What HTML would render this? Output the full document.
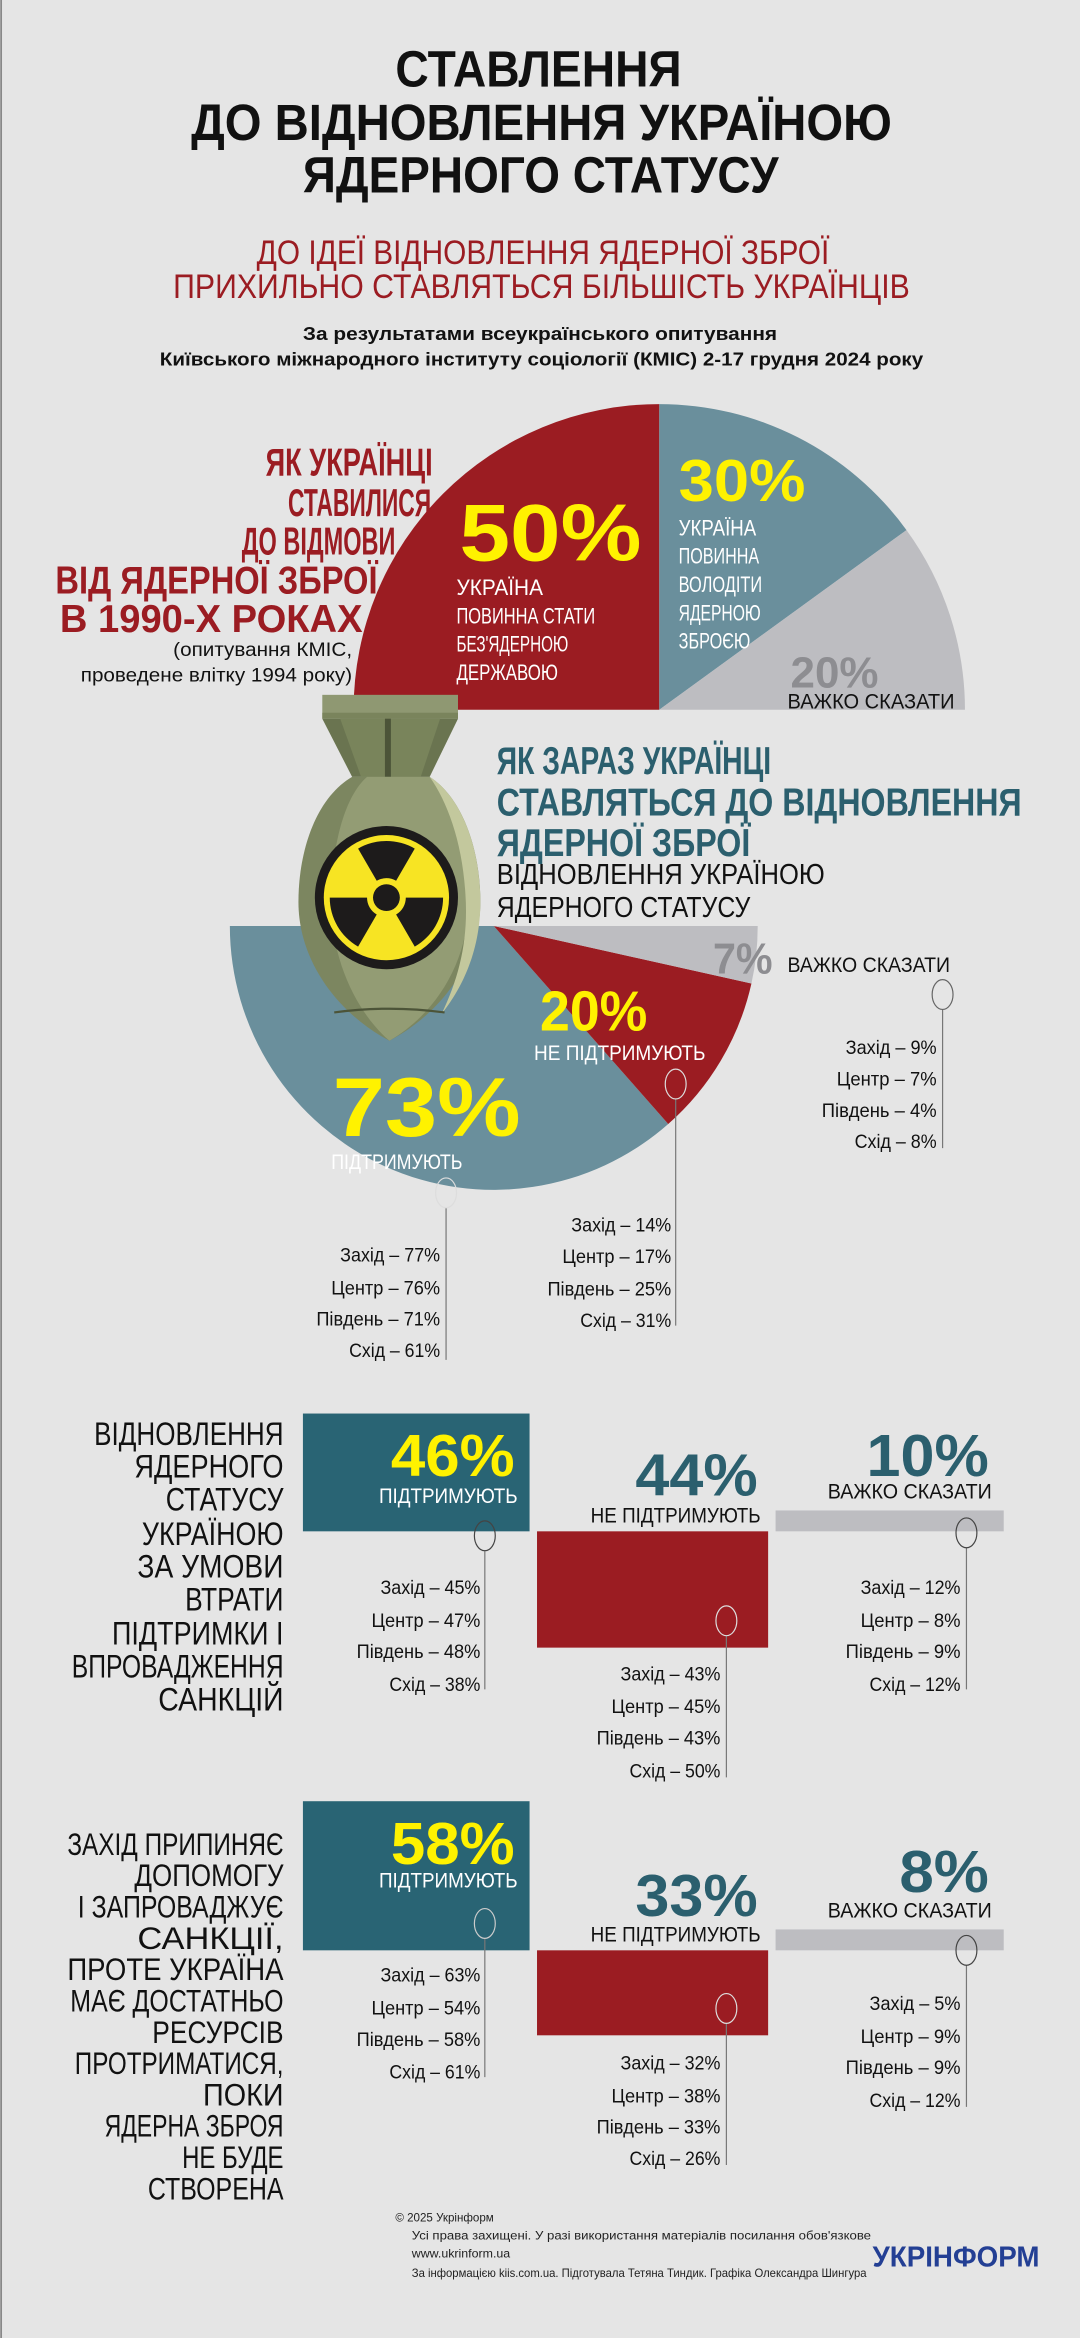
<!DOCTYPE html>
<html><head><meta charset="utf-8"><style>
html,body{margin:0;padding:0;background:#e5e5e5}
svg{display:block}
text{font-family:"Liberation Sans","DejaVu Sans",sans-serif}
.b{font-weight:bold}
</style></head><body>
<svg width="1080" height="2338" viewBox="0 0 724 1568" xmlns="http://www.w3.org/2000/svg">
<rect x="0" y="0" width="724" height="1568" fill="#e5e5e5"/>
<rect x="0" y="0" width="1.2" height="1568" fill="#888"/>

<text class="b" x="265" y="58" font-size="34" textLength="192" lengthAdjust="spacingAndGlyphs" fill="#111">СТАВЛЕННЯ</text>
<text class="b" x="128" y="94" font-size="34" textLength="470" lengthAdjust="spacingAndGlyphs" fill="#111">ДО ВІДНОВЛЕННЯ УКРАЇНОЮ</text>
<text class="b" x="203" y="129" font-size="34" textLength="319" lengthAdjust="spacingAndGlyphs" fill="#111">ЯДЕРНОГО СТАТУСУ</text>

<text x="172" y="177" font-size="23" textLength="384" lengthAdjust="spacingAndGlyphs" fill="#9b1c22">ДО ІДЕЇ ВІДНОВЛЕННЯ ЯДЕРНОЇ ЗБРОЇ</text>
<text x="116" y="200" font-size="23" textLength="494" lengthAdjust="spacingAndGlyphs" fill="#9b1c22">ПРИХИЛЬНО СТАВЛЯТЬСЯ БІЛЬШІСТЬ УКРАЇНЦІВ</text>

<text class="b" x="203" y="228" font-size="12.5" textLength="318" lengthAdjust="spacingAndGlyphs" fill="#111">За результатами всеукраїнського опитування</text>
<text class="b" x="107" y="245" font-size="12.5" textLength="512" lengthAdjust="spacingAndGlyphs" fill="#111">Київського міжнародного інституту соціології (КМІС) 2-17 грудня 2024 року</text>

<path d="M442,476 L237,476 A205,205 0 0 1 442,271 Z" fill="#9b1c22"/>
<path d="M442,476 L442,271 A205,205 0 0 1 607.8,355.5 Z" fill="#6a8f9c"/>
<path d="M442,476 L607.8,355.5 A205,205 0 0 1 647,476 Z" fill="#bdbdc1"/>

<text class="b" x="308" y="376" font-size="54" textLength="122" lengthAdjust="spacingAndGlyphs" fill="#fff200">50%</text>
<g font-size="15" fill="#fff">
<text x="306" y="399" textLength="58" lengthAdjust="spacingAndGlyphs">УКРАЇНА</text>
<text x="306" y="418" textLength="93" lengthAdjust="spacingAndGlyphs">ПОВИННА СТАТИ</text>
<text x="306" y="437" textLength="75" lengthAdjust="spacingAndGlyphs">БЕЗ'ЯДЕРНОЮ</text>
<text x="306" y="456" textLength="68" lengthAdjust="spacingAndGlyphs">ДЕРЖАВОЮ</text>
</g>
<text class="b" x="455" y="336" font-size="40" textLength="85" lengthAdjust="spacingAndGlyphs" fill="#fff200">30%</text>
<g font-size="15" fill="#fff">
<text x="455" y="359" textLength="52" lengthAdjust="spacingAndGlyphs">УКРАЇНА</text>
<text x="455" y="378" textLength="54" lengthAdjust="spacingAndGlyphs">ПОВИННА</text>
<text x="455" y="397" textLength="56" lengthAdjust="spacingAndGlyphs">ВОЛОДІТИ</text>
<text x="455" y="416" textLength="55" lengthAdjust="spacingAndGlyphs">ЯДЕРНОЮ</text>
<text x="455" y="435" textLength="48" lengthAdjust="spacingAndGlyphs">ЗБРОЄЮ</text>
</g>
<text class="b" x="530" y="461" font-size="29" textLength="59" lengthAdjust="spacingAndGlyphs" fill="#8d8d91">20%</text>
<text x="528" y="475" font-size="14" textLength="112" lengthAdjust="spacingAndGlyphs" fill="#111">ВАЖКО СКАЗАТИ</text>

<g class="b" font-size="26" fill="#9b1c22" text-anchor="end">
<text x="290" y="319" textLength="112" lengthAdjust="spacingAndGlyphs">ЯК УКРАЇНЦІ</text>
<text x="289" y="346" textLength="96" lengthAdjust="spacingAndGlyphs">СТАВИЛИСЯ</text>
<text x="265" y="372" textLength="103" lengthAdjust="spacingAndGlyphs">ДО ВІДМОВИ</text>
<text x="253" y="398" textLength="216" lengthAdjust="spacingAndGlyphs">ВІД ЯДЕРНОЇ ЗБРОЇ</text>
<text x="243" y="424" textLength="203" lengthAdjust="spacingAndGlyphs">В 1990-Х РОКАХ</text>
</g>
<g font-size="13" fill="#111" text-anchor="end">
<text x="236" y="440" textLength="120" lengthAdjust="spacingAndGlyphs">(опитування КМІС,</text>
<text x="236" y="457" textLength="182" lengthAdjust="spacingAndGlyphs">проведене влітку 1994 року)</text>
</g>

<path d="M331,621 L154,621 A177,177 0 0 0 448,753.8 Z" fill="#6a8f9c"/>
<path d="M331,621 L448,753.8 A177,177 0 0 0 503.8,659.6 Z" fill="#9b1c22"/>
<path d="M331,621 L503.8,659.6 A177,177 0 0 0 508,621 Z" fill="#bdbdc1"/>

<g>
<rect x="216" y="466" width="91" height="16" fill="#8f9872"/>
<rect x="216" y="478" width="91" height="4" fill="#7a845c"/>
<polygon points="216,482 307,482 288,521 236,521" fill="#6a7450"/>
<polygon points="228,482 295,482 282,521 242,521" fill="#79845b"/>
<rect x="258" y="482" width="4" height="39" fill="#4c5438"/>
<path d="M236,521 L288,521 C310,535 322,570 322,605 C322,645 295,680 261,698 C227,680 200,645 200,605 C200,570 212,535 236,521 Z" fill="#7c8660"/>
<path d="M246,521 L288,521 C306,535 314,570 314,605 C314,645 292,680 261,698 C240,680 222,645 222,605 C222,570 230,535 246,521 Z" fill="#939c74"/>
<path d="M288,521 C310,535 322,570 322,605 C322,640 308,665 296,680 C308,655 314,630 312,600 C310,565 300,538 288,521 Z" fill="#c3c89d"/>
<path d="M224,679 Q261,674 298,679" stroke="#4c5438" stroke-width="1.5" fill="none"/>
<circle cx="259" cy="602" r="48" fill="#1d1b1b"/>
<circle cx="259" cy="602" r="42" fill="#f7e423"/>
<circle cx="259" cy="602" r="9" fill="#1d1b1b"/>
<g fill="#1d1b1b">
<path d="M252.5,590.7 L240,569.1 A38,38 0 0 1 278,569.1 L265.5,590.7 A13,13 0 0 0 252.5,590.7 Z"/>
<path d="M272,602 L297,602 A38,38 0 0 1 278,634.9 L265.5,613.3 A13,13 0 0 0 272,602 Z"/>
<path d="M252.5,613.3 L240,634.9 A38,38 0 0 1 221,602 L246,602 A13,13 0 0 0 252.5,613.3 Z"/>
</g>
</g>

<g class="b" font-size="26" fill="#2b5f6e">
<text x="333" y="519" textLength="184" lengthAdjust="spacingAndGlyphs">ЯК ЗАРАЗ УКРАЇНЦІ</text>
<text x="333" y="547" textLength="352" lengthAdjust="spacingAndGlyphs">СТАВЛЯТЬСЯ ДО ВІДНОВЛЕННЯ</text>
<text x="333" y="574" textLength="170" lengthAdjust="spacingAndGlyphs">ЯДЕРНОЇ ЗБРОЇ</text>
</g>
<text x="333" y="593" font-size="19" textLength="220" lengthAdjust="spacingAndGlyphs" fill="#111">ВІДНОВЛЕННЯ УКРАЇНОЮ</text>
<text x="333" y="615" font-size="19" textLength="170" lengthAdjust="spacingAndGlyphs" fill="#111">ЯДЕРНОГО СТАТУСУ</text>

<text class="b" x="478" y="653" font-size="29" textLength="40" lengthAdjust="spacingAndGlyphs" fill="#8d8d91">7%</text>
<text x="528" y="652" font-size="14" textLength="109" lengthAdjust="spacingAndGlyphs" fill="#111">ВАЖКО СКАЗАТИ</text>
<text class="b" x="362" y="691" font-size="38" textLength="72" lengthAdjust="spacingAndGlyphs" fill="#fff200">20%</text>
<text x="358" y="711" font-size="14" textLength="115" lengthAdjust="spacingAndGlyphs" fill="#fff">НЕ ПІДТРИМУЮТЬ</text>
<text class="b" x="223" y="762" font-size="56" textLength="126" lengthAdjust="spacingAndGlyphs" fill="#fff200">73%</text>
<text x="222" y="784" font-size="14" textLength="88" lengthAdjust="spacingAndGlyphs" fill="#fff">ПІДТРИМУЮТЬ</text>

<g fill="none" stroke-width="0.8">
<line x1="632" y1="677" x2="632" y2="770" stroke="#777"/>
<ellipse cx="632" cy="667" rx="7" ry="10" stroke="#666"/>
<line x1="453" y1="737" x2="453" y2="889" stroke="#777"/>
<ellipse cx="453" cy="727" rx="7" ry="10" stroke="#ddd"/>
<line x1="299" y1="810" x2="299" y2="912" stroke="#777"/>
<ellipse cx="299" cy="800" rx="7" ry="10" stroke="#ddd"/>
</g>
<g font-size="13" fill="#111" text-anchor="end">
<text x="628" y="707" textLength="61" lengthAdjust="spacingAndGlyphs">Захід – 9%</text>
<text x="628" y="728" textLength="67" lengthAdjust="spacingAndGlyphs">Центр – 7%</text>
<text x="628" y="749" textLength="77" lengthAdjust="spacingAndGlyphs">Південь – 4%</text>
<text x="628" y="770" textLength="55" lengthAdjust="spacingAndGlyphs">Схід – 8%</text>
<text x="450" y="826" textLength="67" lengthAdjust="spacingAndGlyphs">Захід – 14%</text>
<text x="450" y="847" textLength="73" lengthAdjust="spacingAndGlyphs">Центр – 17%</text>
<text x="450" y="869" textLength="83" lengthAdjust="spacingAndGlyphs">Південь – 25%</text>
<text x="450" y="890" textLength="61" lengthAdjust="spacingAndGlyphs">Схід – 31%</text>
<text x="295" y="846" textLength="67" lengthAdjust="spacingAndGlyphs">Захід – 77%</text>
<text x="295" y="868" textLength="73" lengthAdjust="spacingAndGlyphs">Центр – 76%</text>
<text x="295" y="889" textLength="83" lengthAdjust="spacingAndGlyphs">Південь – 71%</text>
<text x="295" y="910" textLength="61" lengthAdjust="spacingAndGlyphs">Схід – 61%</text>
</g>

<g font-size="22" fill="#111" text-anchor="end">
<text x="190" y="969" textLength="127" lengthAdjust="spacingAndGlyphs">ВІДНОВЛЕННЯ</text>
<text x="190" y="991" textLength="100" lengthAdjust="spacingAndGlyphs">ЯДЕРНОГО</text>
<text x="190" y="1013" textLength="79" lengthAdjust="spacingAndGlyphs">СТАТУСУ</text>
<text x="190" y="1036" textLength="95" lengthAdjust="spacingAndGlyphs">УКРАЇНОЮ</text>
<text x="190" y="1058" textLength="98" lengthAdjust="spacingAndGlyphs">ЗА УМОВИ</text>
<text x="190" y="1080" textLength="66" lengthAdjust="spacingAndGlyphs">ВТРАТИ</text>
<text x="190" y="1103" textLength="115" lengthAdjust="spacingAndGlyphs">ПІДТРИМКИ І</text>
<text x="190" y="1125" textLength="142" lengthAdjust="spacingAndGlyphs">ВПРОВАДЖЕННЯ</text>
<text x="190" y="1147" textLength="84" lengthAdjust="spacingAndGlyphs">САНКЦІЙ</text>
</g>
<rect x="203" y="948" width="152" height="79" fill="#296474"/>
<rect x="360" y="1027" width="155" height="78" fill="#9b1c22"/>
<rect x="520" y="1013" width="153" height="14" fill="#bdbdc1"/>
<text class="b" x="262" y="990" font-size="40" textLength="83" lengthAdjust="spacingAndGlyphs" fill="#fff200">46%</text>
<text x="254" y="1008" font-size="14" textLength="93" lengthAdjust="spacingAndGlyphs" fill="#fff">ПІДТРИМУЮТЬ</text>
<text class="b" x="426" y="1003" font-size="40" textLength="82" lengthAdjust="spacingAndGlyphs" fill="#2b5f6e">44%</text>
<text x="396" y="1021" font-size="14" textLength="114" lengthAdjust="spacingAndGlyphs" fill="#111">НЕ ПІДТРИМУЮТЬ</text>
<text class="b" x="581" y="990" font-size="40" textLength="82" lengthAdjust="spacingAndGlyphs" fill="#2b5f6e">10%</text>
<text x="555" y="1005" font-size="14" textLength="110" lengthAdjust="spacingAndGlyphs" fill="#111">ВАЖКО СКАЗАТИ</text>
<g fill="none" stroke-width="0.8">
<line x1="325" y1="1040" x2="325" y2="1133" stroke="#777"/>
<ellipse cx="325" cy="1030" rx="7" ry="10" stroke="#444"/>
<line x1="487" y1="1097" x2="487" y2="1192" stroke="#777"/>
<ellipse cx="487" cy="1087" rx="7" ry="10" stroke="#ddd"/>
<line x1="648" y1="1038" x2="648" y2="1133" stroke="#777"/>
<ellipse cx="648" cy="1028" rx="7" ry="10" stroke="#444"/>
</g>
<g font-size="13" fill="#111" text-anchor="end">
<text x="322" y="1069" textLength="67" lengthAdjust="spacingAndGlyphs">Захід – 45%</text>
<text x="322" y="1091" textLength="73" lengthAdjust="spacingAndGlyphs">Центр – 47%</text>
<text x="322" y="1112" textLength="83" lengthAdjust="spacingAndGlyphs">Південь – 48%</text>
<text x="322" y="1134" textLength="61" lengthAdjust="spacingAndGlyphs">Схід – 38%</text>
<text x="483" y="1127" textLength="67" lengthAdjust="spacingAndGlyphs">Захід – 43%</text>
<text x="483" y="1149" textLength="73" lengthAdjust="spacingAndGlyphs">Центр – 45%</text>
<text x="483" y="1170" textLength="83" lengthAdjust="spacingAndGlyphs">Південь – 43%</text>
<text x="483" y="1192" textLength="61" lengthAdjust="spacingAndGlyphs">Схід – 50%</text>
<text x="644" y="1069" textLength="67" lengthAdjust="spacingAndGlyphs">Захід – 12%</text>
<text x="644" y="1091" textLength="67" lengthAdjust="spacingAndGlyphs">Центр – 8%</text>
<text x="644" y="1112" textLength="77" lengthAdjust="spacingAndGlyphs">Південь – 9%</text>
<text x="644" y="1134" textLength="61" lengthAdjust="spacingAndGlyphs">Схід – 12%</text>
</g>

<g font-size="21" fill="#111" text-anchor="end">
<text x="190" y="1244" textLength="145" lengthAdjust="spacingAndGlyphs">ЗАХІД ПРИПИНЯЄ</text>
<text x="190" y="1265" textLength="100" lengthAdjust="spacingAndGlyphs">ДОПОМОГУ</text>
<text x="190" y="1286" textLength="138" lengthAdjust="spacingAndGlyphs">І ЗАПРОВАДЖУЄ</text>
<text x="190" y="1307" textLength="98" lengthAdjust="spacingAndGlyphs">САНКЦІЇ,</text>
<text x="190" y="1328" textLength="145" lengthAdjust="spacingAndGlyphs">ПРОТЕ УКРАЇНА</text>
<text x="190" y="1349" textLength="143" lengthAdjust="spacingAndGlyphs">МАЄ ДОСТАТНЬО</text>
<text x="190" y="1370" textLength="88" lengthAdjust="spacingAndGlyphs">РЕСУРСІВ</text>
<text x="190" y="1391" textLength="140" lengthAdjust="spacingAndGlyphs">ПРОТРИМАТИСЯ,</text>
<text x="190" y="1412" textLength="54" lengthAdjust="spacingAndGlyphs">ПОКИ</text>
<text x="190" y="1433" textLength="120" lengthAdjust="spacingAndGlyphs">ЯДЕРНА ЗБРОЯ</text>
<text x="190" y="1454" textLength="68" lengthAdjust="spacingAndGlyphs">НЕ БУДЕ</text>
<text x="190" y="1475" textLength="91" lengthAdjust="spacingAndGlyphs">СТВОРЕНА</text>
</g>
<rect x="203" y="1208" width="152" height="100" fill="#296474"/>
<rect x="360" y="1308" width="155" height="57" fill="#9b1c22"/>
<rect x="520" y="1294" width="153" height="14" fill="#bdbdc1"/>
<text class="b" x="262" y="1250" font-size="40" textLength="83" lengthAdjust="spacingAndGlyphs" fill="#fff200">58%</text>
<text x="254" y="1266" font-size="14" textLength="93" lengthAdjust="spacingAndGlyphs" fill="#fff">ПІДТРИМУЮТЬ</text>
<text class="b" x="426" y="1285" font-size="40" textLength="82" lengthAdjust="spacingAndGlyphs" fill="#2b5f6e">33%</text>
<text x="396" y="1302" font-size="14" textLength="114" lengthAdjust="spacingAndGlyphs" fill="#111">НЕ ПІДТРИМУЮТЬ</text>
<text class="b" x="603" y="1269" font-size="40" textLength="60" lengthAdjust="spacingAndGlyphs" fill="#2b5f6e">8%</text>
<text x="555" y="1286" font-size="14" textLength="110" lengthAdjust="spacingAndGlyphs" fill="#111">ВАЖКО СКАЗАТИ</text>
<g fill="none" stroke-width="0.8">
<line x1="325" y1="1300" x2="325" y2="1393" stroke="#777"/>
<ellipse cx="325" cy="1290" rx="7" ry="10" stroke="#ccc"/>
<line x1="487" y1="1357" x2="487" y2="1452" stroke="#777"/>
<ellipse cx="487" cy="1347" rx="7" ry="10" stroke="#ddd"/>
<line x1="648" y1="1318" x2="648" y2="1413" stroke="#777"/>
<ellipse cx="648" cy="1308" rx="7" ry="10" stroke="#444"/>
</g>
<g font-size="13" fill="#111" text-anchor="end">
<text x="322" y="1329" textLength="67" lengthAdjust="spacingAndGlyphs">Захід – 63%</text>
<text x="322" y="1351" textLength="73" lengthAdjust="spacingAndGlyphs">Центр – 54%</text>
<text x="322" y="1372" textLength="83" lengthAdjust="spacingAndGlyphs">Південь – 58%</text>
<text x="322" y="1394" textLength="61" lengthAdjust="spacingAndGlyphs">Схід – 61%</text>
<text x="483" y="1388" textLength="67" lengthAdjust="spacingAndGlyphs">Захід – 32%</text>
<text x="483" y="1410" textLength="73" lengthAdjust="spacingAndGlyphs">Центр – 38%</text>
<text x="483" y="1431" textLength="83" lengthAdjust="spacingAndGlyphs">Південь – 33%</text>
<text x="483" y="1452" textLength="61" lengthAdjust="spacingAndGlyphs">Схід – 26%</text>
<text x="644" y="1348" textLength="61" lengthAdjust="spacingAndGlyphs">Захід – 5%</text>
<text x="644" y="1370" textLength="67" lengthAdjust="spacingAndGlyphs">Центр – 9%</text>
<text x="644" y="1391" textLength="77" lengthAdjust="spacingAndGlyphs">Південь – 9%</text>
<text x="644" y="1413" textLength="61" lengthAdjust="spacingAndGlyphs">Схід – 12%</text>
</g>

<g font-size="8" fill="#222">
<text x="265" y="1490" textLength="66" lengthAdjust="spacingAndGlyphs">© 2025 Укрінформ</text>
<text x="276" y="1502" textLength="308" lengthAdjust="spacingAndGlyphs">Усі права захищені. У разі використання матеріалів посилання обов'язкове</text>
<text x="276" y="1514" textLength="66" lengthAdjust="spacingAndGlyphs">www.ukrinform.ua</text>
<text x="276" y="1527" textLength="305" lengthAdjust="spacingAndGlyphs">За інформацією kiis.com.ua. Підготувала Тетяна Тиндик. Графіка Олександра Шингура</text>
</g>
<text class="b" x="585" y="1520" font-size="19" textLength="112" lengthAdjust="spacingAndGlyphs" fill="#233f94">УКРІНФОРМ</text>
</svg>
</body></html>
